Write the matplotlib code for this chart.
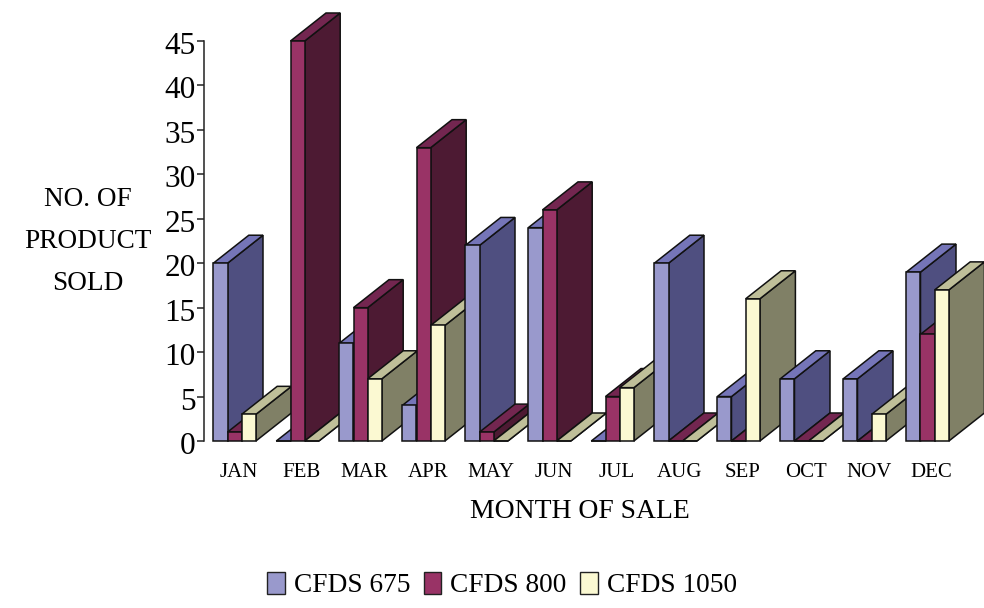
import matplotlib
matplotlib.use('Agg')
import matplotlib.pyplot as plt
from matplotlib.patches import Patch
from matplotlib.transforms import ScaledTranslation

plt.rcParams['font.family'] = ['Liberation Serif', 'DejaVu Serif']

months = ['JAN', 'FEB', 'MAR', 'APR', 'MAY', 'JUN', 'JUL', 'AUG', 'SEP', 'OCT', 'NOV', 'DEC']
series_names = ['CFDS 675', 'CFDS 800', 'CFDS 1050']
cfds_675 = [20, 0, 11, 4, 22, 24, 0, 20, 5, 7, 7, 19]
cfds_800 = [1, 45, 15, 33, 1, 26, 5, 0, 0, 0, 0, 12]
cfds_1050 = [3, 0, 7, 13, 0, 0, 6, 0, 16, 0, 3, 17]
yticks = [0, 5, 10, 15, 20, 25, 30, 35, 40, 45]

front_colors = ['#9999cc', '#993366', '#fbf9d2']
side_colors = ['#4f4f80', '#4d1a33', '#808066']
top_colors = ['#7575b8', '#732650', '#bfbf99']

W, H = 984, 608
fig = plt.figure(figsize=(W / 100, H / 100), dpi=100)

# one month = 63 px, 45 units = 400 px
ax = fig.add_axes([204 / W, (H - 441) / H, 756 / W, 400 / H])
ax.set_xlim(0, 12)
ax.set_ylim(0, 45)
ax.patch.set_visible(False)

bar_w = 14.2 / 63
start = 9.3 / 63
dx = 35.5 / 63
dy = 28 * 45 / 400
edge = '#111111'
lw = 1.1

z = 2
for i in range(len(months)):
    for s, vals in enumerate([cfds_675, cfds_800, cfds_1050]):
        v = vals[i]
        x0 = i + start + s * bar_w
        x1 = x0 + bar_w
        # side face then top face then front
        ax.fill([x1, x1 + dx, x1 + dx, x1], [0, dy, v + dy, v], fc=side_colors[s],
                ec=edge, lw=lw, zorder=z, clip_on=False)
        ax.fill([x0, x1, x1 + dx, x0 + dx], [v, v, v + dy, v + dy], fc=top_colors[s],
                ec=edge, lw=lw, zorder=z, clip_on=False)
        ax.bar(x0, v, width=bar_w, align='edge', color=front_colors[s],
               edgecolor=edge, linewidth=lw, zorder=z, clip_on=False)
        z += 1

for side in ['top', 'right', 'bottom']:
    ax.spines[side].set_visible(False)
ax.spines['left'].set_linewidth(1.1)
ax.spines['left'].set_color('#222222')

ax.set_yticks(yticks)
ax.tick_params(axis='y', labelsize=22.5, length=5, width=1.1, pad=1, color='#222222')
# numbers sit a little under their ticks in the original
shift = ScaledTranslation(0, -2 / 100, fig.dpi_scale_trans)
for lab in ax.get_yticklabels():
    lab.set_transform(lab.get_transform() + shift)

ax.set_xticks([i + 0.55 for i in range(len(months))])
ax.set_xticklabels(months, fontsize=15)
ax.tick_params(axis='x', length=0, pad=16)

fig.text(88 / W, 1 - 200 / H, 'NO. OF', ha='center', va='center', fontsize=19.6)
fig.text(88 / W, 1 - 242 / H, 'PRODUCT', ha='center', va='center', fontsize=19.6)
fig.text(88 / W, 1 - 284 / H, 'SOLD', ha='center', va='center', fontsize=19.6)
fig.text(580 / W, 1 - 511 / H, 'MONTH OF SALE', ha='center', va='center', fontsize=19.9)

handles = [Patch(fc=c, ec='#222222', lw=1.0) for c in front_colors]
fig.legend(handles, series_names, loc='center', bbox_to_anchor=(502 / W, 1 - 585 / H),
           ncols=3, frameon=False, fontsize=19.7, handlelength=0.64, handleheight=0.9,
           handletextpad=0.33, columnspacing=0.5, borderpad=0, borderaxespad=0)

fig.savefig('out.png', dpi=100)
